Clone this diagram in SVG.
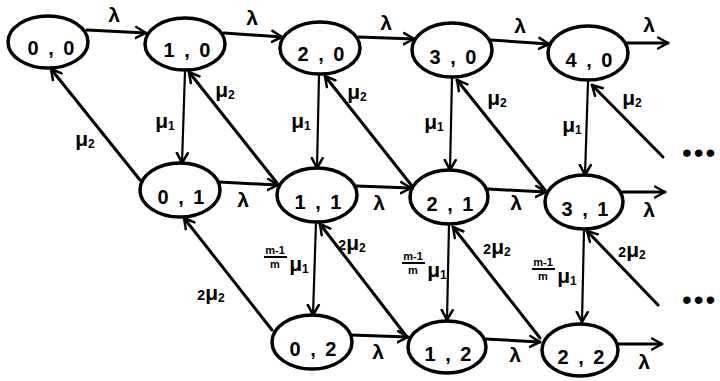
<svg xmlns="http://www.w3.org/2000/svg" width="720" height="381" viewBox="0 0 720 381">
<defs>
<marker id="ah" markerUnits="userSpaceOnUse" markerWidth="16" markerHeight="16" refX="11" refY="6" orient="auto" viewBox="0 0 16 12">
<path d="M1,0.5 L11,6 L1,11.5" fill="none" stroke="#000" stroke-width="2.5" stroke-linecap="round" stroke-linejoin="round"/>
</marker>
</defs>
<style>
.node ellipse{fill:#fff;stroke:#000;stroke-width:3.5}
.node text{font-family:"Liberation Sans",Arial,sans-serif;font-weight:bold;font-size:20px;text-anchor:middle;letter-spacing:2px}
.e{stroke:#000;stroke-width:3;fill:none;marker-end:url(#ah);stroke-linecap:round}
.v{stroke-width:2.2}
.lbl{font-family:"Liberation Sans",Arial,sans-serif;font-weight:bold;font-size:21px;text-anchor:middle}
.sm{font-family:"Liberation Sans",Arial,sans-serif;font-weight:bold;font-size:11px;text-anchor:middle}
.dots{font-family:"Liberation Sans",Arial,sans-serif;font-size:28px;letter-spacing:2px}
</style>
<g id="connectors">
<line class="e" x1="87" y1="30" x2="146" y2="33"/>
<line class="e" x1="224" y1="33" x2="282" y2="37"/>
<line class="e" x1="359" y1="37" x2="414" y2="39"/>
<line class="e" x1="491" y1="40" x2="549" y2="44"/>
<line class="e" x1="627" y1="43" x2="668" y2="43"/>
<line class="e" x1="219" y1="182" x2="278" y2="185"/>
<line class="e" x1="356" y1="186" x2="411" y2="188"/>
<line class="e" x1="488" y1="189" x2="546" y2="192"/>
<line class="e" x1="623" y1="192" x2="665" y2="192"/>
<line class="e" x1="351" y1="335" x2="408" y2="337"/>
<line class="e" x1="485" y1="339" x2="540" y2="342"/>
<line class="e" x1="618" y1="344" x2="662" y2="344"/>
<line class="e v" x1="185" y1="71" x2="182" y2="163"/>
<line class="e v" x1="319" y1="75" x2="317" y2="168"/>
<line class="e v" x1="452" y1="78" x2="450" y2="170"/>
<line class="e v" x1="588" y1="82" x2="585" y2="175"/>
<line class="e v" x1="316" y1="222" x2="313" y2="315"/>
<line class="e v" x1="449" y1="224" x2="447" y2="320"/>
<line class="e v" x1="584" y1="229" x2="582" y2="322"/>
<line class="e" x1="140" y1="180" x2="51" y2="69"/>
<line class="e" x1="277" y1="183" x2="189" y2="72"/>
<line class="e" x1="412" y1="186" x2="325" y2="76"/>
<line class="e" x1="545" y1="190" x2="457" y2="80"/>
<line class="e" x1="663" y1="157" x2="592" y2="85"/>
<line class="e" x1="272" y1="330" x2="184" y2="218"/>
<line class="e" x1="407" y1="337" x2="320" y2="224"/>
<line class="e" x1="540" y1="338" x2="453" y2="227"/>
<line class="e" x1="658" y1="305" x2="587" y2="231"/>
<text class="lbl" x="114" y="22">λ</text>
<text class="lbl" x="252" y="25">λ</text>
<text class="lbl" x="386" y="30">λ</text>
<text class="lbl" x="520" y="33">λ</text>
<text class="lbl" x="649" y="32">λ</text>
<text class="lbl" x="243" y="207">λ</text>
<text class="lbl" x="379" y="210">λ</text>
<text class="lbl" x="516" y="210">λ</text>
<text class="lbl" x="649" y="217">λ</text>
<text class="lbl" x="378" y="359">λ</text>
<text class="lbl" x="515" y="362">λ</text>
<text class="lbl" x="644" y="369">λ</text>
<text class="lbl" x="165" y="128">μ<tspan font-size="12" dy="2">1</tspan></text>
<text class="lbl" x="301" y="128">μ<tspan font-size="12" dy="2">1</tspan></text>
<text class="lbl" x="434" y="129">μ<tspan font-size="12" dy="2">1</tspan></text>
<text class="lbl" x="572" y="132">μ<tspan font-size="12" dy="2">1</tspan></text>
<text class="lbl" x="85" y="146">μ<tspan font-size="12" dy="2">2</tspan></text>
<text class="lbl" x="225" y="97">μ<tspan font-size="12" dy="2">2</tspan></text>
<text class="lbl" x="357" y="99">μ<tspan font-size="12" dy="2">2</tspan></text>
<text class="lbl" x="497" y="105">μ<tspan font-size="12" dy="2">2</tspan></text>
<text class="lbl" x="632" y="105">μ<tspan font-size="12" dy="2">2</tspan></text>
<text class="lbl" x="211" y="300"><tspan font-size="14">2</tspan>μ<tspan font-size="12" dy="2">2</tspan></text>
<text class="lbl" x="352" y="250"><tspan font-size="14">2</tspan>μ<tspan font-size="12" dy="2">2</tspan></text>
<text class="lbl" x="497" y="254"><tspan font-size="14">2</tspan>μ<tspan font-size="12" dy="2">2</tspan></text>
<text class="lbl" x="632" y="257"><tspan font-size="14">2</tspan>μ<tspan font-size="12" dy="2">2</tspan></text>
<g id="frac1">
<text class="sm" x="275" y="254">m-1</text>
<line x1="264" y1="257" x2="287" y2="257" stroke="#000" stroke-width="2"/>
<text class="sm" x="275" y="268">m</text>
<text class="lbl" x="299" y="271">μ<tspan font-size="12" dy="2">1</tspan></text>
</g>
<g id="frac2">
<text class="sm" x="413" y="260">m-1</text>
<line x1="402" y1="263" x2="425" y2="263" stroke="#000" stroke-width="2"/>
<text class="sm" x="413" y="274">m</text>
<text class="lbl" x="437" y="277">μ<tspan font-size="12" dy="2">1</tspan></text>
</g>
<g id="frac3">
<text class="sm" x="543" y="266">m-1</text>
<line x1="532" y1="269" x2="555" y2="269" stroke="#000" stroke-width="2"/>
<text class="sm" x="543" y="280">m</text>
<text class="lbl" x="567" y="283">μ<tspan font-size="12" dy="2">1</tspan></text>
</g>
<text class="dots" x="682" y="162">•••</text>
<text class="dots" x="682" y="309">•••</text>
</g>
<g id="n00" class="node"><ellipse cx="48" cy="42" rx="40" ry="26"/><text x="52" y="55">0 , 0</text></g>
<g id="n10" class="node"><ellipse cx="185" cy="44" rx="40" ry="26"/><text x="188" y="57">1 , 0</text></g>
<g id="n20" class="node"><ellipse cx="320" cy="48" rx="40" ry="26"/><text x="322" y="61">2 , 0</text></g>
<g id="n30" class="node"><ellipse cx="452" cy="50" rx="40" ry="27"/><text x="454" y="64">3 , 0</text></g>
<g id="n40" class="node"><ellipse cx="588" cy="53" rx="40" ry="27"/><text x="590" y="67">4 , 0</text></g>
<g id="n01" class="node"><ellipse cx="180" cy="190" rx="40" ry="27"/><text x="182" y="204">0 , 1</text></g>
<g id="n11" class="node"><ellipse cx="317" cy="195" rx="40" ry="27"/><text x="319" y="209">1 , 1</text></g>
<g id="n21" class="node"><ellipse cx="449" cy="197" rx="39" ry="27"/><text x="451" y="211">2 , 1</text></g>
<g id="n31" class="node"><ellipse cx="584" cy="202" rx="39" ry="27"/><text x="586" y="216">3 , 1</text></g>
<g id="n02" class="node"><ellipse cx="312" cy="342" rx="40" ry="27"/><text x="314" y="356">0 , 2</text></g>
<g id="n12" class="node"><ellipse cx="447" cy="347" rx="39" ry="26"/><text x="449" y="361">1 , 2</text></g>
<g id="n22" class="node"><ellipse cx="580" cy="350" rx="38" ry="26"/><text x="582" y="364">2 , 2</text></g>
</svg>
